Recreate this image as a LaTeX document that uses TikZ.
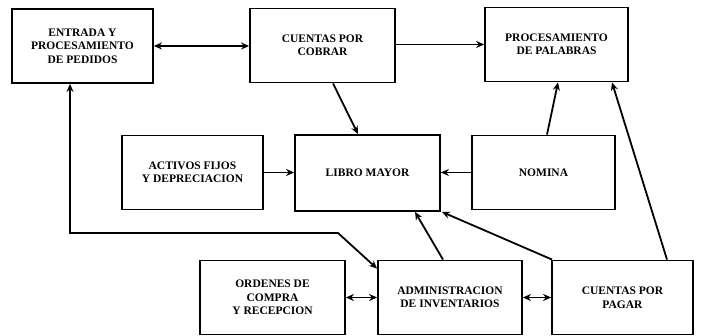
\documentclass[tikz,border=0pt]{standalone}
\usepackage{fontspec}
\setmainfont{Liberation Serif}
\usetikzlibrary{arrows.meta}
\begin{document}
\begin{tikzpicture}[x=1pt,y=-1pt,
  box/.style={draw,line width=1.8pt,rectangle,minimum width=141pt,minimum height=74pt,
    align=center,font=\bfseries\fontsize{11.5}{13.5}\selectfont,inner sep=2pt},
  conn/.style={line width=1.8pt,-{Stealth[length=8pt,width=7pt]}},
  bconn/.style={line width=1.8pt,{Stealth[length=8pt,width=7pt]}-{Stealth[length=8pt,width=7pt]}}]
\useasboundingbox (0,0) rectangle (701,336);
\node[box] (entrada) at (82.5,46) {ENTRADA Y\\PROCESAMIENTO\\DE PEDIDOS};
\node[box,minimum width=145pt] (cobrar) at (322.5,45.5) {CUENTAS POR\\COBRAR};
\node[box,minimum width=143pt] (palabras) at (556.5,44.5) {PROCESAMIENTO\\DE PALABRAS};
\node[box] (activos) at (192.5,172.5) {ACTIVOS FIJOS\\Y DEPRECIACION};
\node[box,minimum width=145pt,minimum height=76pt] (libro) at (367.5,173) {LIBRO MAYOR};
\node[box,minimum width=143pt] (nomina) at (543.5,172.5) {NOMINA};
\node[box,minimum width=145pt] (ordenes) at (272.5,297.5) {ORDENES DE\\COMPRA\\Y RECEPCION};
\node[box,minimum width=144pt] (admin) at (450,297.5) {ADMINISTRACION\\DE INVENTARIOS};
\node[box] (pagar) at (622.5,297.5) {CUENTAS POR\\PAGAR};
\coordinate (bend) at (338,233);

\draw[bconn] (entrada.east) -- (cobrar.west |- entrada.east);
\draw[conn] (cobrar.east |- palabras.west) -- (palabras.west);
\draw[conn] ([xshift=10.5pt]cobrar.south) -- ([xshift=-9.5pt]libro.north);
\draw[conn] (activos.east) -- (libro.west |- activos.east);
\draw[conn] (nomina.west) -- (libro.east |- nomina.west);
\draw[conn] ([xshift=3.5pt]nomina.north) -- ([xshift=1.5pt]palabras.south);
\draw[conn] ([xshift=44.5pt]pagar.north) -- ([xshift=55.5pt]palabras.south);
\draw[conn] ([xshift=1pt]pagar.north west) -- ([xshift=1pt]libro.south east);
\draw[conn] ([xshift=-7pt]admin.north) -- ([xshift=47.5pt]libro.south);
\draw[bconn] ([xshift=-12.5pt]entrada.south) |- (bend) -- ([yshift=-9pt]admin.north west);
\draw[bconn] (ordenes.east) -- (admin.west);
\draw[bconn] (admin.east) -- (pagar.west);
\end{tikzpicture}
\end{document}
